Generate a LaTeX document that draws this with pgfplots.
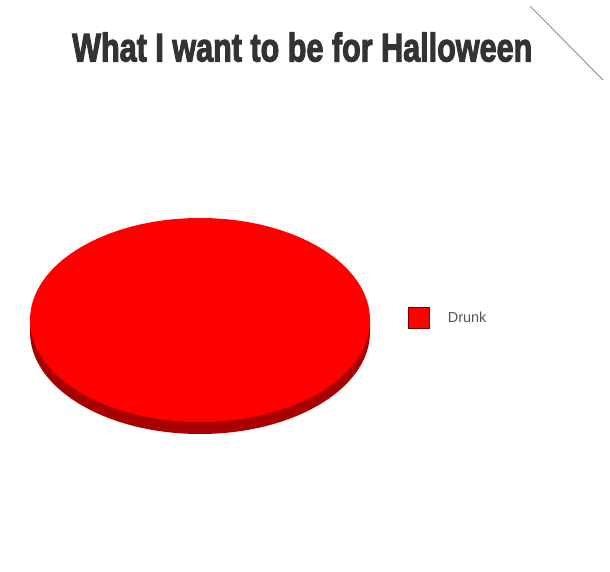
\documentclass[border=0pt]{standalone}
\usepackage{fontspec}
\setmainfont{Liberation Sans}
\newfontfamily\titlefont{Liberation Sans}[BoldFont=Liberation Sans Bold, BoldFeatures={FakeBold=3}]
\usepackage{pgfplots}
\usepackage{pgfplotstable}
\pgfplotsset{compat=1.18}

\definecolor{titlegray}{HTML}{333333}
\definecolor{textgray}{HTML}{555555}
\definecolor{linegray}{HTML}{777777}
\definecolor{pietop}{HTML}{FF0000}
\definecolor{pieside}{HTML}{A80000}
\definecolor{legborder}{HTML}{7A0000}

% one slice: centre of the pie (pixels), share in percent
\pgfplotstableread{
x   y   share
200 320 100
}\piedata

% 3d pie disc drawn as the mark of the data point
\pgfdeclareplotmark{pie3d}{%
  \pgfsetfillcolor{pieside}%
  \pgfpathellipse{\pgfpoint{0pt}{-12pt}}{\pgfpoint{170pt}{0pt}}{\pgfpoint{0pt}{102pt}}%
  \pgfpathrectangle{\pgfpoint{-170pt}{-12pt}}{\pgfpoint{340pt}{12pt}}%
  \pgfusepath{fill}%
  \pgfsetfillcolor{pietop}%
  \pgfpathellipse{\pgfpointorigin}{\pgfpoint{170pt}{0pt}}{\pgfpoint{0pt}{102pt}}%
  \pgfusepath{fill}%
}

\begin{document}
\begin{tikzpicture}
\begin{axis}[
    width=610pt, height=572pt,
    scale only axis,
    xmin=0, xmax=610, ymin=0, ymax=572,
    y dir=reverse,
    hide axis,
    clip=false,
    legend style={at={(axis cs:408,318)}, anchor=west,
        draw=none, fill=none, inner sep=0pt,
        font=\fontsize{14.5}{16}\selectfont, text=textgray,
        nodes={inner sep=0pt}},
    legend cell align=left,
]
\path (axis cs:0,0) rectangle (axis cs:610,572);

\addplot[only marks, mark=pie3d,
    legend image code/.code={%
        \draw[fill=pietop, draw=legborder, line width=0.8pt]
            (0pt,-10.5pt) rectangle (21pt,10.5pt);
        \path (39pt,0pt);}]
    table[x=x, y=y] {\piedata};
\addlegendentry{Drunk}

\node[anchor=south west, inner sep=0pt, text=titlegray]
    at (axis cs:72,62)
    {\resizebox{460pt}{29pt}{\titlefont\bfseries What I want to be for Halloween}};

\draw[linegray, line width=0.7pt] (axis cs:530,6) -- (axis cs:603,80);
\end{axis}
\end{tikzpicture}
\end{document}
